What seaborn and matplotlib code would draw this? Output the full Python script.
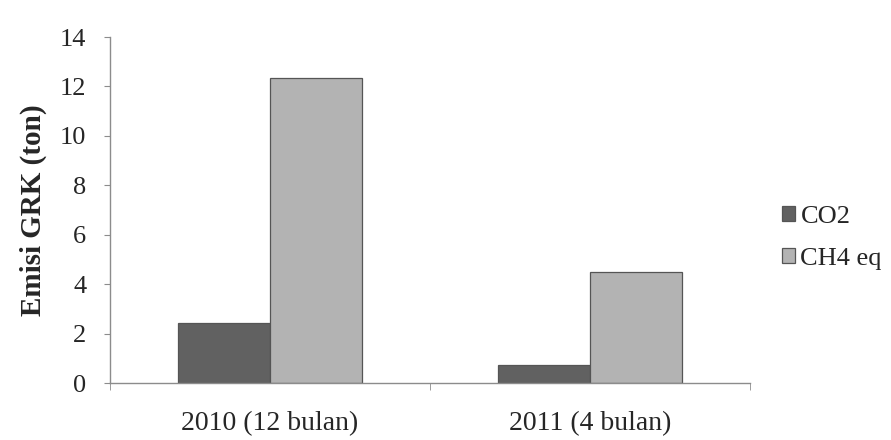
import numpy as np
import pandas as pd
import matplotlib
matplotlib.use('Agg')
import matplotlib.pyplot as plt
import seaborn as sns

years = ['2010 (12 bulan)', '2011 (4 bulan)']
gases = ['CO2', 'CH4 eq']
co2 = [2.43, 0.73]
ch4 = [12.35, 4.49]

df = pd.DataFrame({
    'tahun': years * 2,
    'gas': [gases[0]] * 2 + [gases[1]] * 2,
    'emisi': co2 + ch4,
})

sns.set_style('white')
plt.rcParams['font.family'] = ['Liberation Serif', 'DejaVu Serif']

fig = plt.figure(figsize=(8.91, 4.40), dpi=100)
ax = fig.add_axes([110 / 891, 1 - 383 / 440, 640 / 891, 346 / 440])

sns.barplot(data=df, x='tahun', y='emisi', hue='gas', order=years, hue_order=gases,
            palette=['#616161', '#b3b3b3'], width=0.575, gap=0, saturation=1,
            edgecolor='#555555', linewidth=0.9, ax=ax)

ax.set_xlim(-0.5, 1.5)
ax.set_ylim(0, 14)
ax.set_yticks(np.arange(0, 15, 2))
ax.set_xlabel('')
ax.set_ylabel('Emisi GRK (ton)', fontsize=21, fontweight='bold', labelpad=9)

for s in ['top', 'right']:
    ax.spines[s].set_visible(False)
for s in ['left', 'bottom']:
    ax.spines[s].set_color('#8c8c8c')
    ax.spines[s].set_linewidth(1)

ax.tick_params(axis='y', direction='out', length=4, color='#8c8c8c', labelsize=19, pad=13, left=True)
ax.tick_params(axis='x', which='major', length=0, labelsize=20, pad=20)
ax.set_xticks([-0.5, 0.5, 1.5], minor=True)
ax.tick_params(axis='x', which='minor', direction='out', length=5, color='#8c8c8c', bottom=True)

handles, labels = ax.get_legend_handles_labels()
ax.legend(handles, labels, loc='center left', bbox_to_anchor=(782 / 891, 1 - 238 / 440),
          bbox_transform=fig.transFigure, frameon=False, fontsize=19,
          handlelength=0.5, handleheight=0.5, handletextpad=0.2, labelspacing=0.75,
          borderaxespad=0, borderpad=0)

fig.savefig('out.png', dpi=100)
